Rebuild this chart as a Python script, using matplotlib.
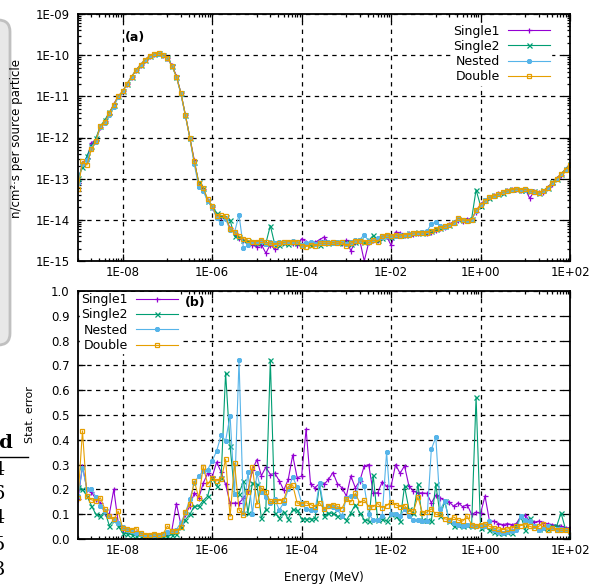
import numpy as np
import matplotlib
matplotlib.use("Agg")
import matplotlib.pyplot as plt
from matplotlib.ticker import FixedLocator, FuncFormatter, LogLocator, NullFormatter, MultipleLocator
from matplotlib.patches import FancyBboxPatch
from matplotlib.lines import Line2D

# energy bins: 10 per decade from 1E-09 to 1E+02 MeV
energy = np.logspace(-9, 2, 111)

labels = ["Single1", "Single2", "Nested", "Double"]
colors = ["#9400d3", "#009e73", "#56b4e9", "#e69f00"]
markers = ["+", "x", (8, 2, 0), "s"]

logflux_single1 = [
    -13.10, -12.62, -12.50, -12.13, -12.05, -11.75, -11.60, -11.42, -11.18, -11.00,
    -10.88, -10.69, -10.52, -10.36, -10.23, -10.11, -10.02, -9.97, -9.95, -9.99,
    -10.07, -10.24, -10.50, -10.92, -11.45, -12.00, -12.55, -13.15, -13.25, -13.52,
    -13.70, -13.90, -13.92, -13.95, -14.20, -14.33, -14.45, -14.50, -14.55, -14.62,
    -14.65, -14.60, -14.81, -14.60, -14.72, -14.58, -14.55, -14.55, -14.57, -14.62,
    -14.46, -14.53, -14.57, -14.55, -14.48, -14.42, -14.55, -14.53, -14.55, -14.57,
    -14.50, -14.75, -14.53, -14.50, -15.00, -14.55, -14.50, -14.48, -14.42, -14.40,
    -14.62, -14.30, -14.32, -14.38, -14.33, -14.35, -14.33, -14.30, -14.33, -14.30,
    -14.25, -14.20, -14.18, -14.10, -14.05, -14.00, -14.02, -13.98, -13.98, -13.80,
    -13.62, -13.52, -13.45, -13.40, -13.36, -13.32, -13.28, -13.25, -13.26, -13.28,
    -13.25, -13.48, -13.30, -13.33, -13.32, -13.20, -13.12, -12.98, -12.90, -12.76,
    -12.65,
]
logflux_single2 = [
    -12.98, -12.72, -12.45, -12.20, -12.02, -11.72, -11.58, -11.38, -11.22, -11.00,
    -10.88, -10.69, -10.52, -10.36, -10.23, -10.11, -10.02, -9.97, -9.95, -9.99,
    -10.07, -10.26, -10.52, -10.92, -11.45, -12.00, -12.60, -13.08, -13.22, -13.55,
    -13.68, -13.84, -13.90, -13.92, -14.01, -14.40, -14.42, -14.50, -14.52, -14.55,
    -14.57, -14.55, -14.57, -14.14, -14.60, -14.62, -14.57, -14.58, -14.55, -14.57,
    -14.60, -14.58, -14.62, -14.57, -14.60, -14.55, -14.57, -14.53, -14.55, -14.57,
    -14.55, -14.58, -14.55, -14.50, -14.53, -14.50, -14.38, -14.50, -14.45, -14.40,
    -14.42, -14.38, -14.36, -14.38, -14.33, -14.33, -14.30, -14.33, -14.30, -14.28,
    -14.22, -14.20, -14.15, -14.12, -14.06, -13.98, -14.00, -14.00, -13.98, -13.27,
    -13.66, -13.52, -13.46, -13.40, -13.37, -13.35, -13.28, -13.26, -13.24, -13.28,
    -13.28, -13.30, -13.31, -13.36, -13.28, -13.23, -13.08, -13.00, -12.88, -12.77,
    -12.64,
]
logflux_nested = [
    -13.10, -12.65, -12.55, -12.25, -12.10, -11.75, -11.65, -11.45, -11.25, -11.02,
    -10.88, -10.69, -10.52, -10.36, -10.23, -10.11, -10.02, -9.97, -9.96, -10.00,
    -10.08, -10.27, -10.53, -10.95, -11.47, -12.02, -12.65, -13.20, -13.30, -13.55,
    -13.70, -13.95, -14.08, -13.98, -14.25, -14.30, -13.88, -14.69, -14.62, -14.55,
    -14.55, -14.52, -14.58, -14.55, -14.57, -14.55, -14.53, -14.55, -14.52, -14.55,
    -14.60, -14.57, -14.55, -14.58, -14.55, -14.53, -14.55, -14.57, -14.53, -14.55,
    -14.58, -14.53, -14.50, -14.48, -14.36, -14.52, -14.50, -14.45, -14.42, -14.40,
    -14.40, -14.40, -14.38, -14.36, -14.35, -14.33, -14.32, -14.30, -14.28, -14.10,
    -14.05, -14.15, -14.17, -14.12, -14.07, -13.97, -14.00, -14.03, -14.00, -13.78,
    -13.65, -13.53, -13.44, -13.42, -13.37, -13.33, -13.30, -13.28, -13.26, -13.27,
    -13.27, -13.30, -13.33, -13.34, -13.30, -13.22, -13.10, -13.00, -12.88, -12.78,
    -12.66,
]
logflux_double = [
    -13.26, -12.58, -12.67, -12.29, -12.09, -11.71, -11.63, -11.40, -11.20, -10.99,
    -10.88, -10.69, -10.52, -10.36, -10.23, -10.11, -10.02, -9.97, -9.95, -9.99,
    -10.07, -10.26, -10.52, -10.92, -11.45, -12.00, -12.58, -13.10, -13.22, -13.50,
    -13.67, -13.91, -13.89, -13.91, -14.23, -14.30, -14.39, -14.46, -14.50, -14.53,
    -14.53, -14.49, -14.55, -14.57, -14.60, -14.57, -14.55, -14.53, -14.53, -14.53,
    -14.63, -14.65, -14.60, -14.63, -14.57, -14.57, -14.57, -14.55, -14.57, -14.55,
    -14.63, -14.57, -14.51, -14.51, -14.53, -14.55, -14.49, -14.53, -14.40, -14.36,
    -14.40, -14.36, -14.40, -14.36, -14.36, -14.32, -14.31, -14.32, -14.31, -14.28,
    -14.23, -14.20, -14.16, -14.12, -14.08, -13.96, -14.00, -14.02, -14.00, -13.76,
    -13.64, -13.55, -13.45, -13.42, -13.38, -13.33, -13.30, -13.27, -13.25, -13.27,
    -13.26, -13.30, -13.32, -13.35, -13.30, -13.22, -13.10, -13.00, -12.88, -12.78,
    -12.66,
]

# (b) relative statistical error
err_single1 = [
    0.160, 0.295, 0.200, 0.190, 0.160, 0.146, 0.105, 0.100, 0.200, 0.065,
    0.038, 0.035, 0.031, 0.027, 0.018, 0.014, 0.014, 0.011, 0.014, 0.018,
    0.024, 0.038, 0.143, 0.058, 0.099, 0.132, 0.186, 0.166, 0.225, 0.265,
    0.250, 0.310, 0.270, 0.220, 0.145, 0.145, 0.145, 0.165, 0.193, 0.280,
    0.320, 0.255, 0.290, 0.260, 0.265, 0.235, 0.197, 0.240, 0.338, 0.247,
    0.254, 0.443, 0.220, 0.207, 0.224, 0.220, 0.240, 0.268, 0.223, 0.207,
    0.173, 0.254, 0.207, 0.234, 0.295, 0.300, 0.186, 0.186, 0.230, 0.213,
    0.213, 0.300, 0.265, 0.295, 0.213, 0.193, 0.186, 0.186, 0.184, 0.146,
    0.176, 0.166, 0.153, 0.149, 0.132, 0.146, 0.130, 0.139, 0.099, 0.108,
    0.103, 0.173, 0.072, 0.072, 0.062, 0.058, 0.062, 0.058, 0.062, 0.092,
    0.095, 0.072, 0.068, 0.072, 0.065, 0.062, 0.058, 0.054, 0.051, 0.045,
    0.045,
]
err_single2 = [
    0.210, 0.200, 0.173, 0.135, 0.099, 0.092, 0.112, 0.054, 0.078, 0.051,
    0.024, 0.022, 0.018, 0.014, 0.011, 0.011, 0.008, 0.008, 0.008, 0.008,
    0.011, 0.018, 0.022, 0.049, 0.078, 0.099, 0.132, 0.132, 0.155, 0.173,
    0.247, 0.213, 0.247, 0.670, 0.375, 0.186, 0.183, 0.234, 0.105, 0.227,
    0.220, 0.085, 0.119, 0.723, 0.105, 0.085, 0.110, 0.081, 0.119, 0.115,
    0.081, 0.080, 0.080, 0.083, 0.220, 0.092, 0.105, 0.103, 0.092, 0.092,
    0.076, 0.105, 0.139, 0.105, 0.078, 0.072, 0.257, 0.076, 0.081, 0.072,
    0.099, 0.092, 0.072, 0.213, 0.119, 0.105, 0.220, 0.078, 0.076, 0.072,
    0.220, 0.092, 0.153, 0.072, 0.051, 0.058, 0.051, 0.058, 0.051, 0.572,
    0.045, 0.051, 0.038, 0.027, 0.024, 0.024, 0.027, 0.024, 0.051, 0.092,
    0.038, 0.085, 0.051, 0.040, 0.045, 0.040, 0.051, 0.051, 0.105, 0.040,
    0.018,
]
err_nested = [
    0.173, 0.288, 0.200, 0.200, 0.170, 0.132, 0.112, 0.092, 0.076, 0.065,
    0.050, 0.038, 0.031, 0.024, 0.022, 0.018, 0.018, 0.018, 0.018, 0.022,
    0.027, 0.031, 0.038, 0.065, 0.105, 0.160, 0.227, 0.254, 0.274, 0.280,
    0.315, 0.355, 0.419, 0.396, 0.497, 0.180, 0.720, 0.104, 0.270, 0.100,
    0.265, 0.190, 0.170, 0.145, 0.160, 0.118, 0.145, 0.200, 0.250, 0.210,
    0.146, 0.119, 0.116, 0.116, 0.227, 0.122, 0.132, 0.130, 0.119, 0.092,
    0.166, 0.173, 0.173, 0.240, 0.213, 0.099, 0.078, 0.078, 0.092, 0.351,
    0.099, 0.099, 0.092, 0.119, 0.092, 0.078, 0.078, 0.072, 0.072, 0.362,
    0.410, 0.119, 0.153, 0.072, 0.065, 0.058, 0.051, 0.058, 0.051, 0.051,
    0.051, 0.054, 0.072, 0.038, 0.027, 0.024, 0.027, 0.031, 0.038, 0.092,
    0.078, 0.072, 0.051, 0.038, 0.045, 0.051, 0.045, 0.040, 0.040, 0.035,
    0.024,
]
err_double = [
    0.164, 0.436, 0.172, 0.158, 0.154, 0.166, 0.121, 0.091, 0.079, 0.112,
    0.043, 0.040, 0.038, 0.042, 0.023, 0.018, 0.016, 0.022, 0.016, 0.020,
    0.052, 0.031, 0.034, 0.047, 0.110, 0.141, 0.234, 0.166, 0.292, 0.220,
    0.247, 0.234, 0.240, 0.322, 0.090, 0.306, 0.118, 0.098, 0.190, 0.292,
    0.138, 0.206, 0.188, 0.152, 0.152, 0.155, 0.157, 0.212, 0.218, 0.145,
    0.142, 0.146, 0.139, 0.130, 0.146, 0.119, 0.135, 0.139, 0.132, 0.122,
    0.162, 0.149, 0.184, 0.146, 0.157, 0.130, 0.130, 0.143, 0.126, 0.135,
    0.149, 0.139, 0.130, 0.135, 0.112, 0.112, 0.170, 0.105, 0.108, 0.122,
    0.099, 0.099, 0.081, 0.078, 0.089, 0.076, 0.072, 0.092, 0.058, 0.051,
    0.058, 0.062, 0.051, 0.045, 0.040, 0.038, 0.040, 0.045, 0.051, 0.054,
    0.058, 0.051, 0.045, 0.051, 0.062, 0.038, 0.045, 0.038, 0.035, 0.035,
    0.031,
]

x_major = [1e-8, 1e-6, 1e-4, 1e-2, 1e0, 1e2]
# gnuplot-style minor tics: multiples of the odd decades
x_minor = [m * 10.0 ** k for k in range(-9, 2, 2) for m in range(1, 10)]


def sci_label(v, pos):
    return "1E%+03d" % int(round(np.log10(v)))


def style_axis(ax):
    """Log energy axis, mirrored inward ticks and dashed grid like gnuplot."""
    ax.set_xscale("log")
    ax.set_xlim(1e-9, 1e2)
    ax.xaxis.set_major_locator(FixedLocator(x_major))
    ax.xaxis.set_minor_locator(FixedLocator(x_minor))
    ax.xaxis.set_major_formatter(FuncFormatter(sci_label))
    ax.xaxis.set_minor_formatter(NullFormatter())
    ax.set_axisbelow(True)
    ax.grid(True, which="major", color="black", linestyle=(0, (3.5, 3.5)), linewidth=0.9)
    ax.tick_params(which="both", direction="in", top=True, right=True,
                   labelsize=8.5, width=0.9)
    ax.tick_params(which="major", length=5)
    ax.tick_params(which="minor", length=2.5)
    ax.tick_params(axis="y", pad=6)
    for s in ax.spines.values():
        s.set_linewidth(1.3)
        s.set_zorder(6)


def draw_series(ax, ys):
    for y, lab, c, m in zip(ys, labels, colors, markers):
        ax.plot(energy, y, color=c, marker=m, label=lab, linewidth=0.8,
                markersize=3.6 if m != "s" else 3.4,
                markerfacecolor="none" if m == "s" else c,
                markeredgewidth=0.9)


fig = plt.figure(figsize=(5.92, 5.85), dpi=100)
W, H = 592.0, 585.0
ax1 = fig.add_axes([78 / W, 1 - 261 / H, 492 / W, 247 / H])
ax2 = fig.add_axes([78 / W, 1 - 539 / H, 492 / W, 248 / H])

# panel (a)
fluxes = [10.0 ** np.array(v) for v in
          (logflux_single1, logflux_single2, logflux_nested, logflux_double)]
draw_series(ax1, fluxes)
style_axis(ax1)
ax1.set_yscale("log")
ax1.set_ylim(1e-15, 1e-9)
ax1.yaxis.set_major_locator(LogLocator(base=10, numticks=10))
ax1.yaxis.set_minor_locator(LogLocator(base=10, subs=np.arange(2, 10), numticks=20))
ax1.yaxis.set_major_formatter(FuncFormatter(sci_label))
ax1.yaxis.set_minor_formatter(NullFormatter())
ax1.text(0.096, 0.905, "(a)", transform=ax1.transAxes, fontsize=9,
         fontweight="bold", va="center")
leg1 = ax1.legend(loc="upper right", bbox_to_anchor=(0.975, 0.99), markerfirst=False,
                  frameon=True, fancybox=False, edgecolor="white", framealpha=1,
                  fontsize=9, handlelength=3.3, handletextpad=0.7, labelspacing=0.18,
                  borderpad=0.15, numpoints=1)

# panel (b)
draw_series(ax2, [err_single1, err_single2, err_nested, err_double])
style_axis(ax2)
ax2.set_ylim(0, 1.0)
ax2.yaxis.set_major_locator(MultipleLocator(0.1))
ax2.yaxis.set_major_formatter(FuncFormatter(lambda v, p: "%.1f" % v))
ax2.text(0.2175, 0.952, "(b)", transform=ax2.transAxes, fontsize=9,
         fontweight="bold", va="center")
leg2 = ax2.legend(loc="upper left", bbox_to_anchor=(0.004, 0.996), markerfirst=False,
                  frameon=True, fancybox=False, edgecolor="white", framealpha=1,
                  fontsize=9, handlelength=3.3, handletextpad=0.7, labelspacing=0.18,
                  borderpad=0.1, borderaxespad=0.0, numpoints=1)

fig.text(17 / W, 1 - 138 / H, "n/cm\u00b2\u00b7s per source particle", rotation=90,
         ha="center", va="center", fontsize=8.5)
fig.text(30 / W, 1 - 415 / H, "Stat. error", rotation=90, ha="center", va="center",
         fontsize=8)
fig.text(324 / W, 1 - 577 / H, "Energy (MeV)", ha="center", va="center", fontsize=8.5)

# bits of the surrounding page that show at the left edge
side = FancyBboxPatch((-22 / W, 1 - 345 / H), 32 / W, 325 / H,
                      boxstyle="round,pad=0,rounding_size=0.02",
                      transform=fig.transFigure, facecolor="#e8e8e8",
                      edgecolor="#c0c0c0", linewidth=2.0, zorder=0)
fig.patches.append(side)
fig.text(13 / W, 1 - 443 / H, "ed", ha="right", va="center", fontsize=14,
         fontweight="bold", family="DejaVu Serif")
fig.add_artist(Line2D([0, 28 / W], [1 - 457 / H, 1 - 457 / H], color="black",
                      linewidth=1.0, transform=fig.transFigure))
for yy, d in zip([470, 494, 518, 545, 570], ["4", "6", "4", "5", "3"]):
    fig.text(5 / W, 1 - yy / H, d, ha="right", va="center", fontsize=14,
             family="DejaVu Serif")

fig.savefig("out.png", dpi=100)
